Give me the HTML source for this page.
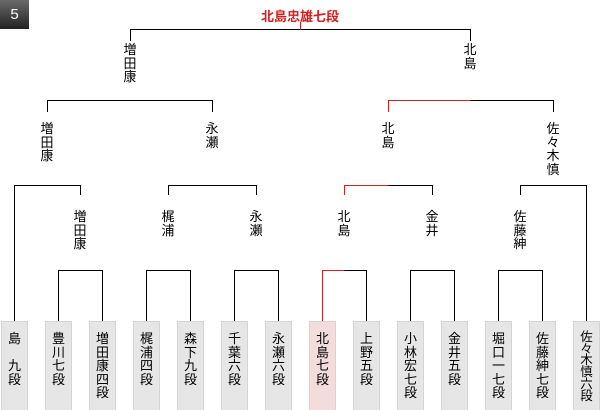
<!DOCTYPE html>
<html><head><meta charset="utf-8"><style>
body{margin:0;width:600px;height:410px;background:#fff;position:relative;overflow:hidden;font-family:"Liberation Sans","Noto Sans CJK JP",sans-serif;}
.l{position:absolute;width:20px;margin-left:-10px;text-align:center;font-size:13px;line-height:13.5px;color:#000;}
.b{position:absolute;top:321px;width:25px;height:88px;background:#e6e6e6;border:1px solid #d4d4d4;border-bottom:none;}
.b span{display:block;text-align:center;font-size:13px;line-height:13.5px;margin-top:10px;}
.b span.s{line-height:11.7px;font-size:12.5px;}
.r{background:#f4dcdc;}
#badge{position:absolute;left:0;top:0;width:29px;height:29px;background:linear-gradient(#6a6a6a,#222);color:#fff;font-size:15px;line-height:29px;text-align:center;}
#title{position:absolute;left:200px;width:200px;top:6px;text-align:center;color:#d42020;font-weight:bold;font-size:13px;}
</style></head><body>
<div id="badge">5</div>
<div id="title">北島忠雄七段</div>
<svg width="600" height="410" style="position:absolute;left:0;top:0" shape-rendering="crispEdges">
<g stroke="#000" fill="none" stroke-width="1">
<path d="M130.5 41V29.5H470.5V41"/>
<path d="M47.5 112V100.5H212.5V112"/>
<path d="M470.5 100.5H553.5V112"/>
<path d="M14.5 321V185.5H80.5V195"/>
<path d="M168.5 195V185.5H256.5V195"/>
<path d="M388.5 185.5H432.5V195"/>
<path d="M520.5 195V185.5H586.5V321"/>
<path d="M58.5 321V270.5H102.5V321"/>
<path d="M146.5 321V270.5H190.5V321"/>
<path d="M234.5 321V270.5H278.5V321"/>
<path d="M344.5 270.5H366.5V321"/>
<path d="M410.5 321V270.5H454.5V321"/>
<path d="M498.5 321V270.5H542.5V321"/>
</g>
<g stroke="#d42020" fill="none">
<path d="M300.5 22V29.5"/>
<path d="M388.5 112V100.5H470.5"/>
<path d="M344.5 195V185.5H388.5"/>
<path d="M322.5 321V270.5H344.5"/>
</g>
</svg>
<div class="l" style="left:130px;top:43px">増<br>田<br>康</div>
<div class="l" style="left:470px;top:43px">北<br>島</div>
<div class="l" style="left:47px;top:122px">増<br>田<br>康</div>
<div class="l" style="left:212px;top:122px">永<br>瀬</div>
<div class="l" style="left:388px;top:122px">北<br>島</div>
<div class="l" style="left:553px;top:122px">佐<br>々<br>木<br>慎</div>
<div class="l" style="left:80px;top:210px">増<br>田<br>康</div>
<div class="l" style="left:168px;top:210px">梶<br>浦</div>
<div class="l" style="left:256px;top:210px">永<br>瀬</div>
<div class="l" style="left:344px;top:210px">北<br>島</div>
<div class="l" style="left:432px;top:210px">金<br>井</div>
<div class="l" style="left:520px;top:210px">佐<br>藤<br>紳</div>
<div class="b" style="left:1px"><span>島<br>　<br>九<br>段</span></div>
<div class="b" style="left:45px"><span>豊<br>川<br>七<br>段</span></div>
<div class="b" style="left:89px"><span>増<br>田<br>康<br>四<br>段</span></div>
<div class="b" style="left:133px"><span>梶<br>浦<br>四<br>段</span></div>
<div class="b" style="left:177px"><span>森<br>下<br>九<br>段</span></div>
<div class="b" style="left:221px"><span>千<br>葉<br>六<br>段</span></div>
<div class="b" style="left:265px"><span>永<br>瀬<br>六<br>段</span></div>
<div class="b r" style="left:309px"><span>北<br>島<br>七<br>段</span></div>
<div class="b" style="left:353px"><span>上<br>野<br>五<br>段</span></div>
<div class="b" style="left:397px"><span>小<br>林<br>宏<br>七<br>段</span></div>
<div class="b" style="left:441px"><span>金<br>井<br>五<br>段</span></div>
<div class="b" style="left:485px"><span>堀<br>口<br>一<br>七<br>段</span></div>
<div class="b" style="left:529px"><span>佐<br>藤<br>紳<br>七<br>段</span></div>
<div class="b" style="left:573px"><span class="s">佐<br>々<br>木<br>慎<br>六<br>段</span></div>
</body></html>
